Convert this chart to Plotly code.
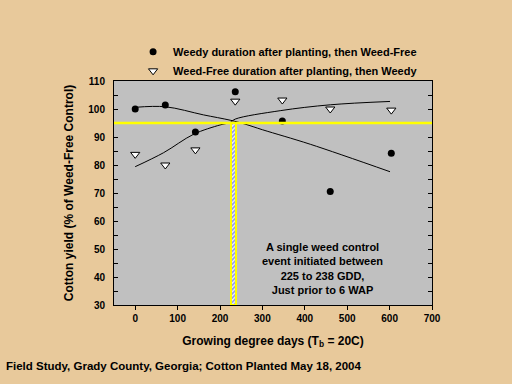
import plotly.graph_objects as go

# ---- data ----
gdd = [0, 71, 142, 236, 347, 460, 604]
weedy_then_free = [100.0, 101.4, 91.8, 106.2, 95.7, 70.5, 84.2]
free_then_weedy = [83.8, 80.0, 85.4, 102.8, 103.2, 100.0, 99.6]

fit_weedy_x = [0, 71, 161, 224, 259, 300, 413, 601]
fit_weedy_y = [100.6, 100.8, 97.9, 96.0, 94.6, 92.6, 87.4, 77.6]
fit_free_x = [0, 67, 138, 200, 224, 236, 342, 460, 601]
fit_free_y = [79.4, 84.4, 91.0, 94.3, 95.2, 96.4, 99.4, 101.5, 102.7]

control_window = [225, 238]   # GDD
threshold = 95                 # % of weed-free control
y_floor = 30

name_a = "Weedy duration after planting, then Weed-Free"
name_b = "Weed-Free duration after planting, then Weedy"

FONT = "Liberation Sans, Arial, sans-serif"
BG = "#E8C99B"

fig = go.Figure()

# control window bar
fig.add_trace(go.Bar(
    x=[(control_window[0] + control_window[1]) / 2],
    y=[threshold - y_floor], base=[y_floor],
    width=[control_window[1] - control_window[0]],
    marker=dict(color="white",
                pattern=dict(shape="/", fgcolor="#1C2FD0", bgcolor="white", size=3, solidity=0.6),
                line=dict(color="#FFFF00", width=2)),
    showlegend=False, hoverinfo="skip"))

fig.add_hline(y=threshold, line=dict(color="#FFFF00", width=2.5), layer="above")

fig.add_trace(go.Scatter(x=fit_weedy_x, y=fit_weedy_y, mode="lines",
                         line=dict(color="black", width=1, shape="spline"),
                         showlegend=False, hoverinfo="skip"))
fig.add_trace(go.Scatter(x=fit_free_x, y=fit_free_y, mode="lines",
                         line=dict(color="black", width=1, shape="spline"),
                         showlegend=False, hoverinfo="skip"))

fig.add_trace(go.Scatter(x=gdd, y=weedy_then_free, mode="markers", name=name_a,
                         marker=dict(symbol="circle", size=7, color="black")))
fig.add_trace(go.Scatter(x=gdd, y=free_then_weedy, mode="markers", name=name_b,
                         marker=dict(symbol="triangle-down", size=8, color="white",
                                     line=dict(color="black", width=1))))

fig.add_annotation(x=441, y=43, xref="x", yref="y",
                   text="A single weed control<br>event initiated between<br>225 to 238 GDD,<br>Just prior to 6 WAP",
                   showarrow=False, align="center",
                   font=dict(family=FONT, size=11, color="black", weight="bold"))

fig.add_annotation(x=-0.345, y=-0.272, xref="paper", yref="paper", xanchor="left", yanchor="middle",
                   text="Field Study, Grady County, Georgia; Cotton Planted May 18, 2004",
                   showarrow=False,
                   font=dict(family=FONT, size=11.5, color="black", weight="bold"))

fig.update_layout(
    width=512, height=384,
    margin=dict(l=114, r=80, t=81, b=79),
    paper_bgcolor=BG, plot_bgcolor="#C0C0C0",
    font=dict(family=FONT, color="black", weight="bold"),
    showlegend=True,
    legend=dict(x=0.06, y=1.195, xanchor="left", yanchor="top", bgcolor="rgba(0,0,0,0)",
                traceorder="normal", font=dict(family=FONT, size=11, weight="bold")),
    bargap=0,
)
fig.update_xaxes(range=[-50, 700], dtick=100, tick0=0, showgrid=False, zeroline=False,
                 showline=True, linecolor="black", linewidth=1, mirror=True,
                 ticks="outside", ticklen=4, tickcolor="black",
                 tickfont=dict(family=FONT, size=10, weight="bold"),
                 title=dict(text="Growing degree days (T<sub>b</sub> = 20C)",
                            font=dict(family=FONT, size=12, weight="bold"), standoff=13))
fig.update_yaxes(range=[30, 110], dtick=10, tick0=30, showgrid=False, zeroline=False,
                 showline=True, linecolor="black", linewidth=1, mirror="ticks",
                 ticks="inside", ticklen=4, tickcolor="black", ticklabelstandoff=6,
                 minor=dict(dtick=5, ticks="inside", ticklen=4, tickcolor="black"),
                 tickfont=dict(family=FONT, size=10, weight="bold"),
                 title=dict(text="Cotton yield (% of Weed-Free Control)",
                            font=dict(family=FONT, size=12, weight="bold"), standoff=12))

fig.write_html("out.html", post_script="document.body.style.margin='0';",
               config={"displayModeBar": False})
